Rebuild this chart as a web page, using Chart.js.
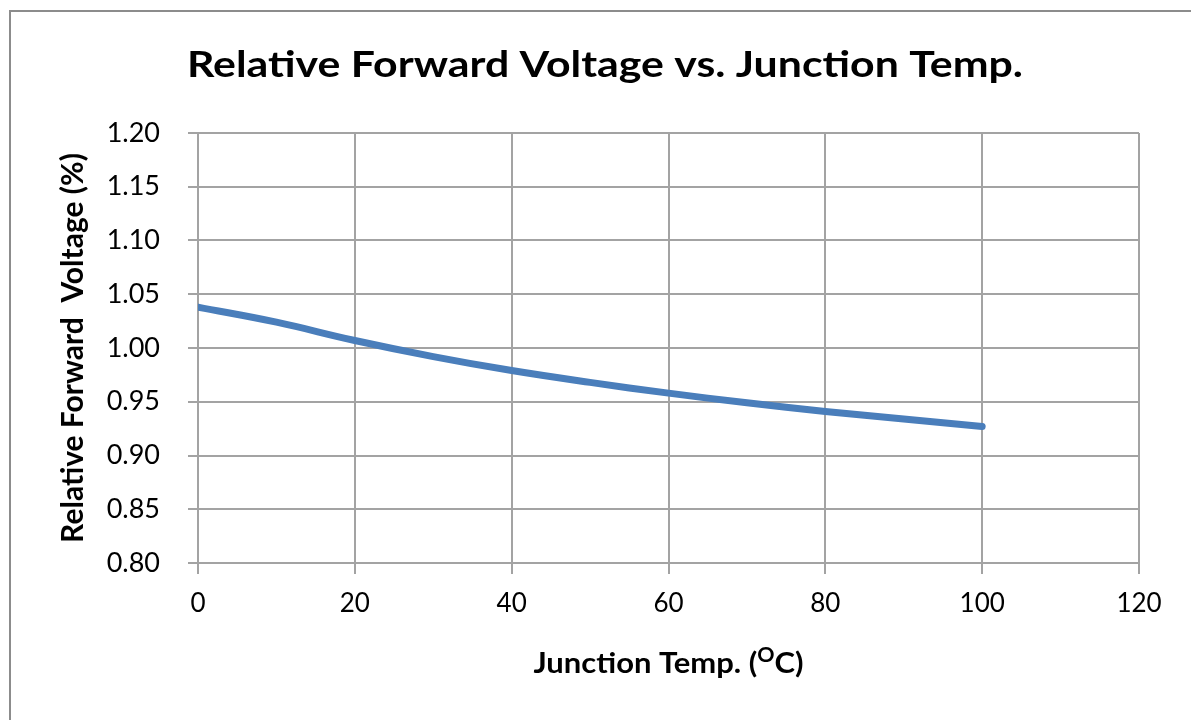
<!DOCTYPE html>
<html>
<head>
<meta charset="utf-8">
<script src="https://cdn.jsdelivr.net/npm/chart.js@4.4.1/dist/chart.umd.min.js"></script>
<style>
  html, body { margin: 0; padding: 0; background: #fff; overflow: hidden; }
  #frame { position: absolute; left: 9px; top: 10px; width: 1200px; height: 800px;
           border: 2px solid #8c8c8c; background: #fff; }
  #wrap { position: absolute; left: 0; top: 0; width: 1191px; height: 720px; }
</style>
</head>
<body>
<div id="frame"></div>
<div id="wrap"><canvas id="c"></canvas></div>
<script>
// Relative forward voltage vs junction temperature
const temps = [0, 10, 20, 30, 40, 50, 60, 70, 80, 90, 100];
const relVf = [1.038, 1.024, 1.007, 0.992, 0.979, 0.968, 0.958, 0.949, 0.941, 0.934, 0.927];

const X_TICKS = { min: 0, max: 120, step: 20 };
const Y_TICKS = { min: 0.80, max: 1.20, step: 0.05 };

const TITLE = "Relative Forward Voltage vs. Junction Temp.";
const FONT = "Lato, 'Open Sans', sans-serif";
const GRID = "#a3a3a3";

// draw text pieces [text, font, dy] centred on cx, squeezed/stretched to a target width
function drawRun(ctx, parts, cx, y, target) {
  let w = 0;
  parts.forEach(p => { ctx.font = p[1]; p.w = ctx.measureText(p[0]).width; w += p.w; });
  const sx = target / w;
  ctx.save();
  ctx.translate(cx - target / 2, y);
  ctx.scale(sx, 1);
  ctx.fillStyle = "#000";
  ctx.textBaseline = "alphabetic";
  let x = 0;
  parts.forEach(p => { ctx.font = p[1]; ctx.fillText(p[0], x, p[2]); x += p.w; });
  ctx.restore();
}

// chart title + x-axis title (superscript "O" which Chart.js titles can't do)
const textPlugin = {
  id: "texts",
  afterDraw(chart) {
    const { ctx, chartArea } = chart;
    drawRun(ctx, [[TITLE, "bold 37px " + FONT, 0]], 605, 77, 836);
    const big = "bold 29px " + FONT, small = "bold 20px " + FONT;
    drawRun(ctx, [["Junction Temp. (", big, 0], ["O", small, -11], ["C)", big, 0]],
            (chartArea.left + chartArea.right) / 2, 673, 270);
  }
};

new Chart(document.getElementById("c"), {
  type: "line",
  data: {
    datasets: [{
      data: temps.map((t, i) => ({ x: t, y: relVf[i] })),
      borderColor: "#4a7ebb",
      borderWidth: 7,
      borderCapStyle: "round",
      tension: 0.4,
      pointRadius: 0,
      fill: false
    }]
  },
  options: {
    responsive: true,
    maintainAspectRatio: false,
    animation: false,
    layout: { padding: { left: 10, right: 52, top: 133, bottom: 37 } },
    plugins: {
      legend: { display: false },
      tooltip: { enabled: false },
      title: { display: false }
    },
    scales: {
      x: {
        type: "linear",
        min: X_TICKS.min, max: X_TICKS.max,
        afterFit(s) { s.height = 120; },
        ticks: { stepSize: X_TICKS.step, color: "#000", padding: 14,
                 font: { family: FONT, size: 26 } },
        grid: { color: GRID, lineWidth: 2, tickLength: 11 },
        border: { color: GRID, width: 2 }
      },
      y: {
        min: Y_TICKS.min, max: Y_TICKS.max,
        afterFit(s) { s.width = 188; },
        ticks: { stepSize: Y_TICKS.step, color: "#000", padding: 28,
                 font: { family: FONT, size: 27 },
                 callback: v => v.toFixed(2) },
        grid: { color: GRID, lineWidth: 2, tickLength: 10 },
        border: { color: GRID, width: 2 },
        title: {
          display: true,
          text: "Relative Forward  Voltage (%)",
          color: "#000",
          font: { family: FONT, size: 30, weight: "bold" },
          padding: { top: 45, bottom: 0 }
        }
      }
    }
  },
  plugins: [textPlugin]
});
</script>
</body>
</html>
